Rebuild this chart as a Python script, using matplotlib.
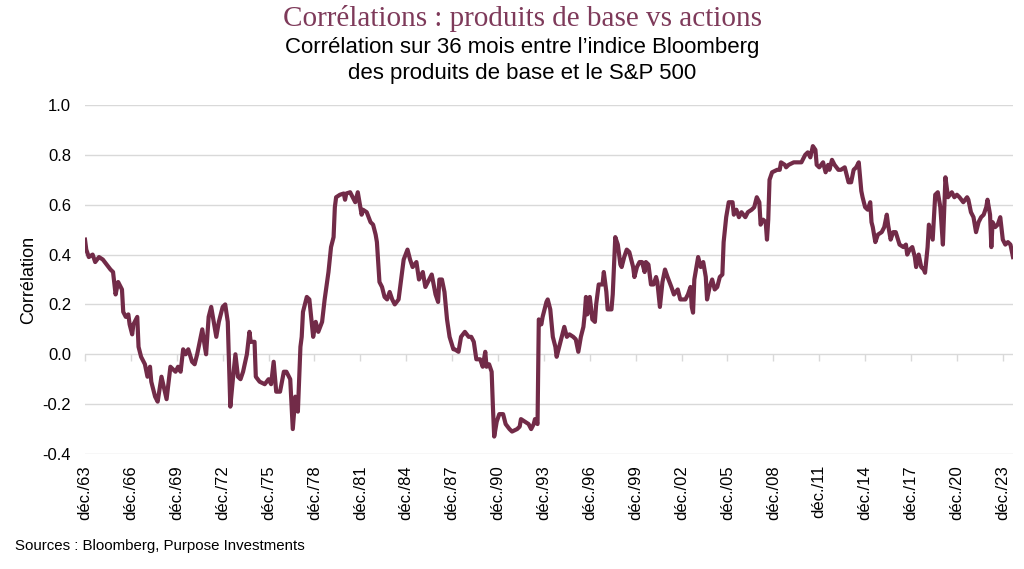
import matplotlib
matplotlib.use("Agg")
import matplotlib.pyplot as plt
import numpy as np

# Monthly offsets from December 1963 and 36-month correlation values
months_since_dec63 = [
    0, 1, 3, 6, 8, 11, 14, 17, 20, 22, 24, 26, 29, 30, 32, 34, 35, 37, 38, 41,
    42, 44, 47, 49, 51, 52, 55, 57, 60, 64, 67, 71, 73, 75, 77, 79, 81, 84, 86, 88,
    90, 92, 94, 95, 97, 99, 103, 105, 108, 110, 112, 114, 116, 118, 120, 122, 124, 127, 129, 130,
    133, 134, 137, 141, 144, 146, 148, 150, 153, 156, 158, 161, 163, 165, 167, 169, 170, 171, 174, 176,
    179, 181, 183, 186, 188, 191, 193, 195, 196, 197, 200, 203, 204, 205, 208, 210, 212, 214, 217, 218,
    221, 224, 226, 228, 229, 231, 233, 235, 237, 239, 241, 243, 246, 248, 250, 253, 255, 257, 260, 262,
    265, 267, 269, 272, 275, 277, 278, 280, 282, 284, 286, 289, 290, 293, 295, 298, 301, 303, 305, 307,
    310, 312, 314, 315, 317, 319, 320, 321, 323, 325, 328, 330, 333, 335, 339, 341, 342, 345, 348, 350,
    352, 353, 355, 356, 358, 359, 362, 363, 365, 367, 369, 370, 372, 374, 376, 378, 380, 383, 385, 387,
    389, 391, 392, 393, 394, 396, 398, 400, 401, 403, 406, 407, 409, 410, 413, 414, 416, 418, 420, 421,
    423, 425, 427, 430, 431, 433, 435, 437, 439, 440, 442, 444, 446, 448, 449, 451, 453, 455, 457, 460,
    462, 465, 467, 471, 473, 475, 476, 477, 478, 481, 483, 485, 487, 488, 490, 492, 494, 496, 498, 500,
    501, 503, 505, 508, 509, 511, 513, 515, 518, 520, 523, 525, 527, 529, 530, 532, 534, 535, 536, 537,
    539, 543, 545, 546, 549, 550, 552, 556, 559, 562, 565, 567, 569, 571, 573, 574, 576, 579, 581, 583,
    584, 586, 588, 591, 593, 596, 599, 601, 603, 605, 607, 609, 610, 612, 614, 616, 617, 618, 620, 622,
    625, 627, 629, 630, 632, 634, 636, 639, 642, 644, 645, 647, 649, 651, 652, 654, 656, 658, 659, 661,
    662, 664, 665, 667, 669, 671, 673, 675, 677, 680, 682, 684, 686, 689, 692, 693, 695, 697, 699, 701,
    703, 705, 707, 708, 710, 711, 712, 714, 716, 718, 720, 722, 724, 726, 728,
]

correlation = [
    0.46, 0.42, 0.39, 0.40, 0.37, 0.39, 0.38, 0.36, 0.34, 0.33, 0.24, 0.29, 0.26, 0.17, 0.15, 0.16, 0.12, 0.08, 0.12, 0.15,
    0.03, -0.01, -0.04, -0.09, -0.05, -0.11, -0.17, -0.19, -0.09, -0.18, -0.05, -0.07, -0.05, -0.07, 0.02, 0.00, 0.02, -0.03, -0.04, 0.00,
    0.05, 0.10, 0.03, 0.00, 0.15, 0.19, 0.07, 0.13, 0.19, 0.20, 0.13, -0.21, -0.10, 0.00, -0.09, -0.10, -0.07, 0.00, 0.09, 0.05,
    0.05, -0.09, -0.11, -0.12, -0.10, -0.12, -0.03, -0.15, -0.15, -0.07, -0.07, -0.10, -0.30, -0.17, -0.23, 0.03, 0.07, 0.17, 0.23, 0.22,
    0.07, 0.13, 0.09, 0.13, 0.22, 0.33, 0.43, 0.47, 0.59, 0.63, 0.64, 0.645, 0.62, 0.645, 0.65, 0.63, 0.61, 0.65, 0.56, 0.58,
    0.57, 0.53, 0.52, 0.48, 0.45, 0.29, 0.27, 0.23, 0.22, 0.25, 0.22, 0.20, 0.22, 0.30, 0.38, 0.42, 0.38, 0.35, 0.37, 0.30,
    0.33, 0.27, 0.29, 0.32, 0.24, 0.21, 0.30, 0.30, 0.25, 0.14, 0.07, 0.02, 0.02, 0.01, 0.07, 0.09, 0.07, 0.07, 0.05, -0.02,
    -0.02, -0.05, 0.01, -0.05, -0.04, -0.07, -0.21, -0.33, -0.27, -0.24, -0.24, -0.28, -0.30, -0.31, -0.30, -0.29, -0.26, -0.27, -0.28, -0.30,
    -0.28, -0.26, -0.28, 0.14, 0.12, 0.15, 0.21, 0.22, 0.18, 0.07, 0.03, -0.01, 0.03, 0.07, 0.11, 0.07, 0.08, 0.07, 0.06, 0.01,
    0.07, 0.11, 0.16, 0.23, 0.16, 0.23, 0.14, 0.13, 0.20, 0.28, 0.28, 0.33, 0.25, 0.18, 0.18, 0.24, 0.47, 0.44, 0.36, 0.35,
    0.39, 0.42, 0.41, 0.35, 0.31, 0.35, 0.37, 0.37, 0.33, 0.37, 0.36, 0.28, 0.28, 0.31, 0.29, 0.19, 0.29, 0.34, 0.31, 0.27,
    0.24, 0.26, 0.22, 0.22, 0.24, 0.27, 0.19, 0.167, 0.30, 0.39, 0.35, 0.37, 0.31, 0.22, 0.27, 0.30, 0.26, 0.27, 0.31, 0.32,
    0.45, 0.55, 0.61, 0.61, 0.56, 0.58, 0.55, 0.57, 0.55, 0.57, 0.58, 0.59, 0.63, 0.61, 0.52, 0.54, 0.53, 0.46, 0.54, 0.70,
    0.73, 0.74, 0.74, 0.77, 0.76, 0.75, 0.76, 0.77, 0.77, 0.77, 0.80, 0.81, 0.79, 0.835, 0.82, 0.76, 0.75, 0.77, 0.73, 0.76,
    0.74, 0.78, 0.76, 0.74, 0.74, 0.75, 0.69, 0.69, 0.74, 0.75, 0.77, 0.655, 0.63, 0.59, 0.58, 0.61, 0.53, 0.51, 0.45, 0.48,
    0.49, 0.51, 0.56, 0.52, 0.46, 0.49, 0.49, 0.44, 0.43, 0.44, 0.40, 0.42, 0.43, 0.39, 0.35, 0.40, 0.35, 0.34, 0.327, 0.43,
    0.52, 0.48, 0.46, 0.64, 0.65, 0.59, 0.44, 0.71, 0.63, 0.65, 0.63, 0.64, 0.63, 0.61, 0.63, 0.62, 0.57, 0.55, 0.49, 0.53,
    0.55, 0.56, 0.59, 0.62, 0.56, 0.43, 0.53, 0.51, 0.52, 0.55, 0.46, 0.44, 0.45, 0.44, 0.39,
]

tick_months = list(range(0, 721, 36))
tick_labels = ["déc./63", "déc./66", "déc./69", "déc./72", "déc./75", "déc./78", "déc./81",
               "déc./84", "déc./87", "déc./90", "déc./93", "déc./96", "déc./99", "déc./02",
               "déc./05", "déc./08", "déc./11", "déc./14", "déc./17", "déc./20", "déc./23"]
y_ticks = [-0.4, -0.2, 0.0, 0.2, 0.4, 0.6, 0.8, 1.0]

plt.rcParams['font.family'] = ['Liberation Sans', 'DejaVu Sans']

fig = plt.figure(figsize=(10.24, 5.69), dpi=100)
ax = fig.add_axes([85/1024, 1 - 454/569, (1013 - 85)/1024, (454 - 105)/569])

line_color = '#722B48'
grid_color = '#D9D9D9'

ax.plot(months_since_dec63, correlation, color=line_color, lw=3.0, solid_joinstyle='round')

ax.set_xlim(0, 728)
ax.set_ylim(-0.4, 1.0)
ax.set_yticks(y_ticks)
ax.set_yticklabels([f"{v:.1f}" for v in y_ticks], fontsize=12)
ax.yaxis.grid(True, color=grid_color, lw=1.0)
ax.set_axisbelow(True)
ax.tick_params(axis='y', length=0, pad=10)

ax.set_xticks(tick_months)
ax.set_xticklabels(tick_labels, rotation=90, fontsize=12, va='top')
ax.tick_params(axis='x', length=0, pad=8)

for s in ax.spines.values():
    s.set_visible(False)

# tick marks on the zero line
sec = ax.secondary_xaxis(0.4 / 1.4)
sec.set_xticks(tick_months)
sec.set_xticklabels([])
sec.tick_params(axis='x', direction='out', length=5, color=grid_color, width=1.0)
for k in ['bottom', 'top', 'left', 'right']:
    if k in sec.spines:
        sec.spines[k].set_visible(False)

ax.set_ylabel("Corrélation", fontsize=13, labelpad=4)

fig.text(0.51, 1 - 19/569, "Corrélations : produits de base vs actions",
         ha='center', va='center', fontsize=21, color='#7E3A5A', family='Liberation Serif')
fig.text(0.51, 1 - 48/569, "Corrélation sur 36 mois entre l’indice Bloomberg",
         ha='center', va='center', fontsize=16, color='black')
fig.text(0.51, 1 - 74/569, "des produits de base et le S&P 500",
         ha='center', va='center', fontsize=16, color='black')
fig.text(15/1024, 1 - 546/569, "Sources : Bloomberg, Purpose Investments",
         ha='left', va='center', fontsize=10.8, color='black')

fig.savefig("out.png", dpi=100)
